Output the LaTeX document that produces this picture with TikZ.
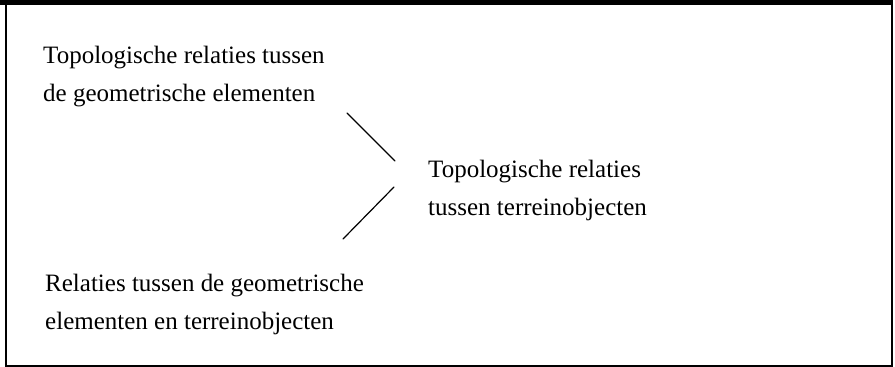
\documentclass[tikz,border=0pt]{standalone}
\usepackage{fontspec}
\setmainfont{Liberation Serif}
\begin{document}
\begin{tikzpicture}[x=1pt,y=-1pt,
  lbl/.style={anchor=base west,inner sep=0pt,align=left,font=\fontsize{25}{38}\selectfont},
  conn/.style={line width=1.2pt,line cap=round},
  frame/.style={line width=1.6pt}]
\useasboundingbox (0,0) rectangle (895,367);
\fill[black] (0,0) rectangle (893,5);
\draw[frame] (6,4) -- (6,366) -- (892,366) -- (892,4);
% base anchor of a multi-line node = baseline of its last line
\node[lbl] (geo) at (43,101.5) {Topologische relaties tussen\\de geometrische elementen};
\node[lbl] (topo) at (428,215) {Topologische relaties\\tussen terreinobjecten};
\node[lbl] (rel) at (45,329) {Relaties tussen de geometrische\\elementen en terreinobjecten};
\coordinate (a1) at (347,113);
\coordinate (a2) at (395,161);
\coordinate (b1) at (394,187);
\coordinate (b2) at (343,239);
\draw[conn] (a1) -- (a2);
\draw[conn] (b1) -- (b2);
\end{tikzpicture}
\end{document}
